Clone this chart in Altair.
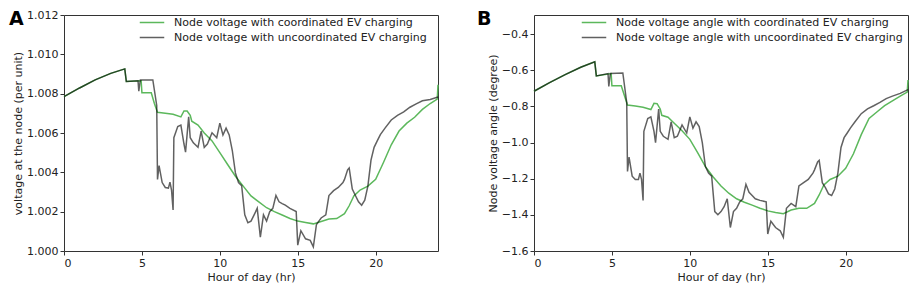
import altair as alt
import pandas as pd

# ---------------- Panel A: node voltage (per unit) ----------------
a_coord_h = [0, 1, 2, 3, 3.9, 4.0, 4.95, 5.0, 5.6, 5.8, 6.0, 6.5, 7.0, 7.5, 7.7, 7.9, 8.1, 8.2,
             8.6, 9.0, 9.5, 10.0, 10.5, 11.0, 11.5, 12.0, 12.5, 13.0, 13.5, 14.0, 14.5, 15.0,
             15.5, 16.0, 16.5, 17.0, 17.5, 18.0, 18.3, 18.6, 19.0, 19.5, 20.0, 20.5, 21.0,
             21.5, 22.0, 22.5, 23.0, 23.5, 23.95, 24.0]
a_coord_v = [1.00785, 1.00829, 1.0087, 1.00903, 1.00926, 1.00862, 1.00866, 1.00805, 1.00805,
             1.0075, 1.00705, 1.00700, 1.00695, 1.00682, 1.00712, 1.00712, 1.0069, 1.0066,
             1.0064, 1.0060, 1.0056, 1.0050, 1.0044, 1.0038, 1.0033, 1.0028, 1.0025, 1.0022,
             1.0020, 1.00183, 1.00165, 1.00152, 1.00145, 1.00138, 1.0015, 1.00163, 1.00165,
             1.0019, 1.0023, 1.0028, 1.0031, 1.0033, 1.00365, 1.0045, 1.0054, 1.0061, 1.0065,
             1.0068, 1.0072, 1.0075, 1.00772, 1.00845]

a_unc_h = [0, 1, 2, 3, 3.9, 4.0, 4.75, 4.8, 4.9, 5.7, 5.95, 6.0, 6.1, 6.3, 6.5, 6.7, 6.8, 6.9,
           7.0, 7.05, 7.3, 7.5, 7.7, 7.8, 8.0, 8.1, 8.3, 8.6, 8.8, 9.0, 9.2, 9.5, 9.8, 10.0,
           10.2, 10.4, 10.6, 10.8, 11.0, 11.2, 11.4, 11.6, 11.8, 12.0, 12.2, 12.4, 12.6, 12.8,
           13.0, 13.2, 13.4, 13.6, 13.8, 14.0, 14.2, 14.5, 14.9, 15.0, 15.2, 15.5, 15.8, 16.0,
           16.2, 16.5, 16.8, 17.0, 17.3, 17.6, 17.9, 18.0, 18.2, 18.3, 18.5, 18.7, 18.9, 19.1,
           19.3, 19.5, 19.7, 19.9, 20.1, 20.3, 20.6, 21.0, 21.4, 21.8, 22.2, 22.6, 23.0, 23.5,
           24.0]
a_unc_v = [1.00785, 1.00829, 1.0087, 1.00903, 1.00926, 1.00862, 1.00866, 1.00813, 1.0087,
           1.0087, 1.0074, 1.00364, 1.00434, 1.00348, 1.00323, 1.0032, 1.0035, 1.0031, 1.00209,
           1.00576, 1.00633, 1.0064, 1.00544, 1.00503, 1.00682, 1.00576, 1.0055, 1.00527,
           1.00609, 1.00527, 1.00544, 1.00601, 1.00576, 1.0065, 1.0059, 1.00625, 1.0059,
           1.00511, 1.00397, 1.00348, 1.00332, 1.00184, 1.00144, 1.00152, 1.00184, 1.00217,
           1.0007, 1.00184, 1.00152, 1.002, 1.00217, 1.00282, 1.0025, 1.00241, 1.00233,
           1.00217, 1.00201, 1.0003, 1.00103, 1.00062, 1.00054, 1.00021, 1.00135, 1.00168,
           1.00184, 1.00282, 1.00307, 1.00323, 1.00348, 1.00364, 1.00413, 1.00422, 1.00315,
           1.00282, 1.0025, 1.00233, 1.00258, 1.0033, 1.00462, 1.00527, 1.0056, 1.00592,
           1.00625, 1.00666, 1.0069, 1.00707, 1.00731, 1.00748, 1.00764, 1.0077, 1.00783]

# ---------------- Panel B: node voltage angle (degree) ----------------
b_coord_h = a_coord_h
b_coord_v = [-0.716, -0.668, -0.624, -0.583, -0.553, -0.631, -0.618, -0.686, -0.686, -0.74,
             -0.792, -0.797, -0.805, -0.817, -0.783, -0.785, -0.814, -0.849, -0.86, -0.893,
             -0.935, -0.982, -1.055, -1.133, -1.19, -1.24, -1.28, -1.311, -1.33, -1.346,
             -1.363, -1.378, -1.387, -1.394, -1.373, -1.364, -1.364, -1.337, -1.29, -1.235,
             -1.204, -1.186, -1.142, -1.062, -0.956, -0.867, -0.831, -0.796, -0.769, -0.743,
             -0.721, -0.654]

b_unc_h = a_unc_h
b_unc_v = [-0.716, -0.668, -0.624, -0.583, -0.553, -0.631, -0.618, -0.689, -0.618, -0.615,
           -0.778, -1.160, -1.080, -1.186, -1.204, -1.204, -1.169, -1.204, -1.320, -0.938,
           -0.867, -0.858, -0.938, -1.000, -0.814, -0.938, -0.965, -0.982, -0.885, -0.973,
           -0.965, -0.902, -0.947, -0.858, -0.920, -0.885, -0.911, -1.000, -1.133, -1.169,
           -1.186, -1.382, -1.399, -1.382, -1.355, -1.311, -1.470, -1.382, -1.364, -1.328,
           -1.311, -1.231, -1.275, -1.293, -1.311, -1.320, -1.328, -1.506, -1.435, -1.470,
           -1.488, -1.524, -1.364, -1.337, -1.355, -1.240, -1.222, -1.204, -1.169, -1.151,
           -1.107, -1.098, -1.222, -1.249, -1.284, -1.293, -1.257, -1.169, -1.027, -0.973,
           -0.947, -0.920, -0.885, -0.840, -0.813, -0.796, -0.778, -0.757, -0.743, -0.728,
           -0.707]

a_labels = ["Node voltage with coordinated EV charging",
            "Node voltage with uncoordinated EV charging"]
b_labels = ["Node voltage angle with coordinated EV charging",
            "Node voltage angle with uncoordinated EV charging"]

x_ticks = [0, 5, 10, 15, 20]
a_ticks = [1.000, 1.002, 1.004, 1.006, 1.008, 1.010, 1.012]
b_ticks = [-1.6, -1.4, -1.2, -1.0, -0.8, -0.6, -0.4]

GREEN = "#5cb85c"
FONT = "DejaVu Sans"
W, H = 374, 236


def frame(hc, vc, hu, vu, labels):
    rows = [{"h": h, "v": v, "s": labels[0], "k": 0} for h, v in zip(hc, vc)]
    rows += [{"h": h, "v": v, "s": labels[1], "k": 1} for h, v in zip(hu, vu)]
    return pd.DataFrame(rows)


def legend(legx):
    return alt.Legend(title=None, orient="none", legendX=legx, legendY=2,
                      symbolType="stroke", symbolSize=600, symbolStrokeWidth=1.5,
                      labelFontSize=11, labelFont=FONT, labelOffset=9, labelLimit=0,
                      clipHeight=11, rowPadding=3, labelColor="#222")


def panel(df, labels, letter, ydomain, yticks, yfmt, ytitle, legx, letter_x):
    lines = alt.Chart(df).mark_line(strokeWidth=1.5).encode(
        x=alt.X("h:Q", scale=alt.Scale(domain=[0, 24], nice=False),
                axis=alt.Axis(values=x_ticks, title="Hour of day (hr)", format="d")),
        y=alt.Y("v:Q", scale=alt.Scale(domain=ydomain, nice=False, zero=False),
                axis=alt.Axis(values=yticks, format=yfmt, title=ytitle)),
        color=alt.Color("s:N", scale=alt.Scale(domain=labels, range=[GREEN, "#000000"]),
                        legend=legend(legx)),
        opacity=alt.Opacity("s:N", scale=alt.Scale(domain=labels, range=[1.0, 0.62]),
                            legend=legend(legx)),
        order=alt.Order("k:Q"),
        detail="s:N",
    )
    lab = alt.Chart(pd.DataFrame({"t": [letter]})).mark_text(
        font=FONT, fontSize=19, fontWeight="bold", align="left", baseline="top", color="#000"
    ).encode(text="t:N", x=alt.value(letter_x), y=alt.value(-5))
    return alt.layer(lines, lab).properties(width=W, height=H)


dfa = frame(a_coord_h, a_coord_v, a_unc_h, a_unc_v, a_labels)
dfb = frame(b_coord_h, b_coord_v, b_unc_h, b_unc_v, b_labels)

pa = panel(dfa, a_labels, "A", [1.000, 1.012], a_ticks, ".3f",
           "voltage at the node (per unit)", 75, -55)
pb = panel(dfb, b_labels, "B", [-1.6, -0.294], b_ticks, ".1f",
           "Node voltage angle (degree)", 47, -57)

chart = alt.hconcat(pa, pb, spacing=34).resolve_scale(
    color="independent", opacity="independent", x="independent", y="independent"
).configure_view(stroke="#333", strokeWidth=1).configure_axis(
    grid=False, domain=False, ticks=True, tickSize=4, tickColor="#333",
    labelFont=FONT, labelFontSize=11, labelColor="#222", labelPadding=2,
    titleFont=FONT, titleFontSize=11, titleFontWeight="normal", titleColor="#222",
    titlePadding=3,
).properties(padding={"left": 0, "top": 0, "right": 0, "bottom": 0})

chart.save("out.html", embed_options={"renderer": "svg", "actions": False})
